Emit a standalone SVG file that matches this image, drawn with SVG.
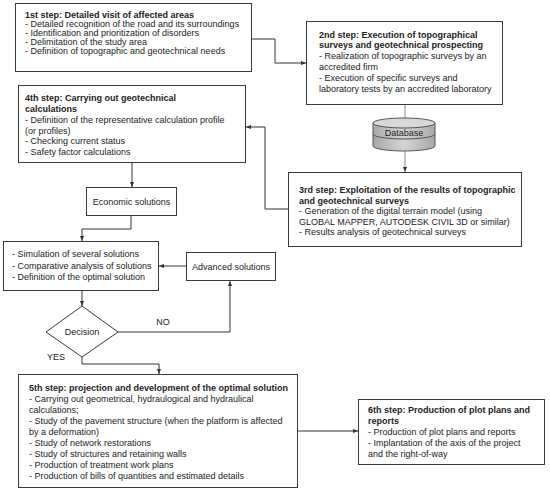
<svg xmlns="http://www.w3.org/2000/svg" width="550" height="491" viewBox="0 0 550 491">
<style>
.box{fill:#fff;stroke:#3a3a3a;stroke-width:1}
.t{font-family:"Liberation Sans",Arial,sans-serif;font-size:9px;fill:#222}
.b{font-weight:bold}
.c{text-anchor:middle}
.ln{fill:none;stroke:#333;stroke-width:1}
.lg{fill:none;stroke:#8a8a8a;stroke-width:1}
</style>
<defs>
<marker id="ar" viewBox="0 0 10 10" refX="10" refY="5" markerWidth="5" markerHeight="5" orient="auto" markerUnits="userSpaceOnUse">
<path d="M0,1 L10,5 L0,9 z" fill="#333"/>
</marker>
<linearGradient id="cyl" x1="0" y1="0" x2="1" y2="0">
<stop offset="0" stop-color="#a8a8a8"/>
<stop offset="0.5" stop-color="#d4d4d4"/>
<stop offset="1" stop-color="#a8a8a8"/>
</linearGradient>
</defs>
<rect width="550" height="491" fill="#fff"/>

<g id="connectors">
<polyline class="ln" points="251,39 275,39 275,63 306,63" marker-end="url(#ar)"/>
<line class="lg" x1="405" y1="105" x2="405" y2="118"/>
<line class="lg" x1="405" y1="151" x2="405" y2="172" marker-end="url(#ar)"/>
<polyline class="ln" points="288,209 265,209 265,127 246,127" marker-end="url(#ar)"/>
<line class="ln" x1="132" y1="163" x2="132" y2="187" marker-end="url(#ar)"/>
<polyline class="ln" points="131,216 131,229 82,229 82,241" marker-end="url(#ar)"/>
<line class="ln" x1="186" y1="266" x2="159" y2="266" marker-end="url(#ar)"/>
<line class="ln" x1="82" y1="291" x2="82" y2="306" marker-end="url(#ar)"/>
<polyline class="ln" points="118,332 230,332 230,281" marker-end="url(#ar)"/>
<polyline class="ln" points="82,357 82,364 159,364 159,374" marker-end="url(#ar)"/>
<line class="ln" x1="298" y1="431" x2="358" y2="431" marker-end="url(#ar)"/>
<text class="t" x="163" y="325" text-anchor="middle">NO</text>
<text class="t" x="56" y="360" text-anchor="middle">YES</text>
</g>

<g id="step1">
<rect class="box" x="15.5" y="3.5" width="236" height="68"/>
<text class="t b" x="25" y="18">1st step: Detailed visit of affected areas</text>
<text class="t" x="25" y="27">- Detailed recognition of the road and its surroundings</text>
<text class="t" x="25" y="36">- Identification and prioritization of disorders</text>
<text class="t" x="25" y="45">- Delimitation of the study area</text>
<text class="t" x="25" y="54">- Definition of topographic and geotechnical needs</text>
</g>

<g id="step2">
<rect class="box" x="306.5" y="21.5" width="196" height="83"/>
<text class="t b" x="319" y="38">2nd step: Execution of topographical</text>
<text class="t b" x="319" y="48">surveys and geotechnical prospecting</text>
<text class="t" x="319" y="59">- Realization of topographic surveys by an</text>
<text class="t" x="319" y="70">accredited firm</text>
<text class="t" x="319" y="81">- Execution of specific surveys and</text>
<text class="t" x="319" y="92">laboratory tests by an accredited laboratory</text>
</g>

<g id="database">
<path d="M373,123 L373,146 A31,5 0 0 0 435,146 L435,123 Z" fill="url(#cyl)" stroke="#555" stroke-width="1"/>
<path d="M373,134 A31,5 0 0 0 435,134" fill="none" stroke="#555" stroke-width="1"/>
<ellipse cx="404" cy="123" rx="31" ry="5" fill="#d8d8d8" stroke="#555" stroke-width="1"/>
<text class="t c" x="404" y="136" fill="#333">Database</text>
</g>

<g id="step3">
<rect class="box" x="288.5" y="172.5" width="233" height="74"/>
<text class="t b" x="299" y="193">3rd step: Exploitation of the results of topographic</text>
<text class="t b" x="299" y="203.5">and geotechnical surveys</text>
<text class="t" x="299" y="214">- Generation of the digital terrain model (using</text>
<text class="t" x="299" y="224.5">GLOBAL MAPPER, AUTODESK CIVIL 3D or similar)</text>
<text class="t" x="299" y="235">- Results analysis of geotechnical surveys</text>
</g>

<g id="step4">
<rect class="box" x="18.5" y="85.5" width="227" height="77"/>
<text class="t b" x="25" y="101">4th step: Carrying out geotechnical</text>
<text class="t b" x="25" y="112">calculations</text>
<text class="t" x="25" y="123">- Definition of the representative calculation profile</text>
<text class="t" x="25" y="133.5">(or profiles)</text>
<text class="t" x="25" y="144">- Checking current status</text>
<text class="t" x="25" y="155">- Safety factor calculations</text>
</g>

<g id="economic">
<rect class="box" x="86.5" y="187.5" width="90" height="28"/>
<text class="t c" x="131.5" y="205">Economic solutions</text>
</g>

<g id="simulation">
<rect class="box" x="3.5" y="241.5" width="155" height="49"/>
<text class="t" x="12" y="257">- Simulation of several solutions</text>
<text class="t" x="12" y="269">- Comparative analysis of solutions</text>
<text class="t" x="12" y="280">- Definition of the optimal solution</text>
</g>

<g id="advanced">
<rect class="box" x="186.5" y="252.5" width="89" height="28"/>
<text class="t c" x="231" y="270">Advanced solutions</text>
</g>

<g id="decision">
<polygon class="box" points="82,306 118,332 82,357 46,332"/>
<text class="t c" x="82" y="335">Decision</text>
</g>

<g id="step5">
<rect class="box" x="18.5" y="374.5" width="279" height="113"/>
<text class="t b" x="29" y="391">5th step: projection and development of the optimal solution</text>
<text class="t" x="29" y="402">- Carrying out geometrical, hydraulogical and hydraulical</text>
<text class="t" x="29" y="413">calculations;</text>
<text class="t" x="29" y="424">- Study of the pavement structure (when the platform is affected</text>
<text class="t" x="29" y="435">by a deformation)</text>
<text class="t" x="29" y="446">- Study of network restorations</text>
<text class="t" x="29" y="457">- Study of structures and retaining walls</text>
<text class="t" x="29" y="468">- Production of treatment work plans</text>
<text class="t" x="29" y="479">- Production of bills of quantities and estimated details</text>
</g>

<g id="step6">
<rect class="box" x="358.5" y="399.5" width="186" height="65"/>
<text class="t b" x="368" y="413">6th step: Production of plot plans and</text>
<text class="t b" x="368" y="424">reports</text>
<text class="t" x="368" y="435">- Production of plot plans and reports</text>
<text class="t" x="368" y="446">- Implantation of the axis of the project</text>
<text class="t" x="368" y="457">and the right-of-way</text>
</g>
</svg>
